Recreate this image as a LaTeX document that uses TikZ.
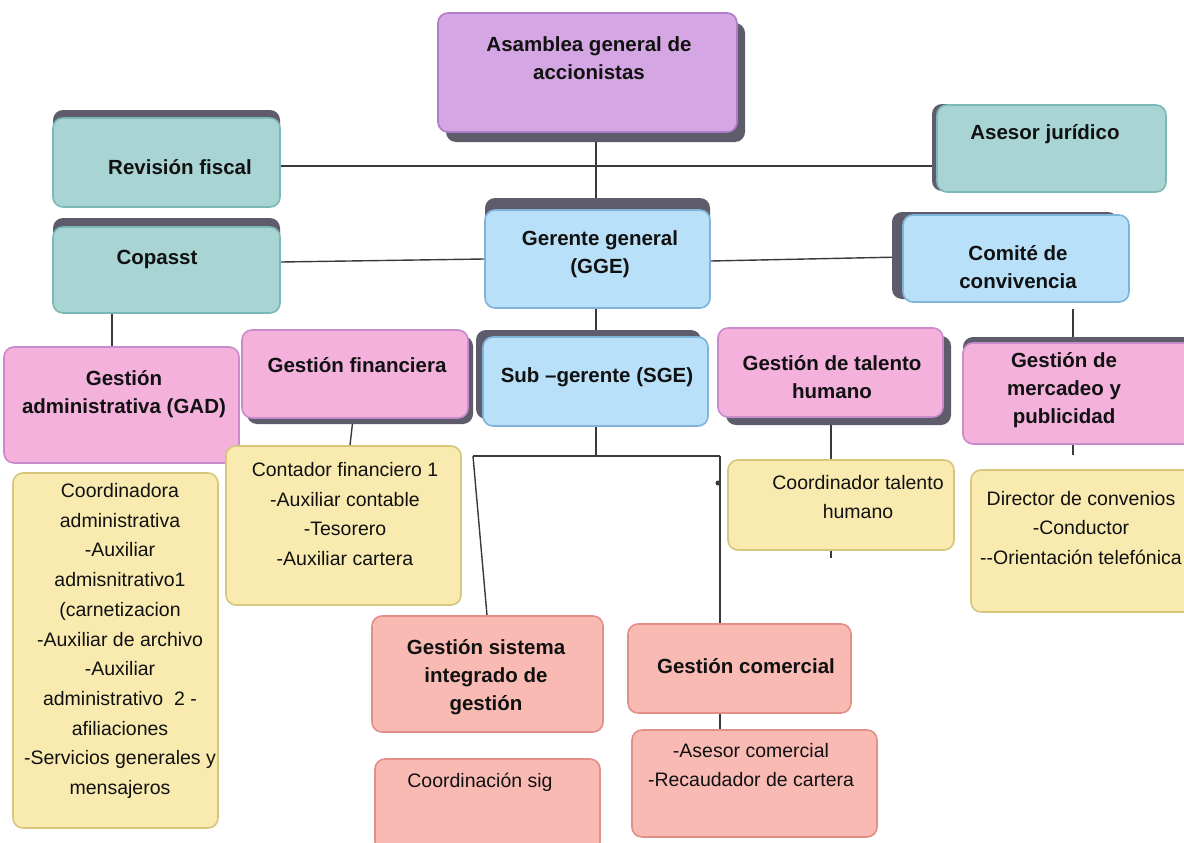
\documentclass[tikz,border=0pt]{standalone}
\usepackage{fontspec}
\setmainfont{Liberation Sans}
\usetikzlibrary{calc}
\pgfdeclarelayer{background}
\pgfsetlayers{background,main}
\definecolor{shd}{HTML}{5E5C6A}
\definecolor{purF}{HTML}{D5A6E4}\definecolor{purD}{HTML}{B07CC6}
\definecolor{teaF}{HTML}{A9D4D4}\definecolor{teaD}{HTML}{7DB8B8}
\definecolor{bluF}{HTML}{B8E0F8}\definecolor{bluD}{HTML}{7FB3DA}
\definecolor{pnkF}{HTML}{F3B1DB}\definecolor{pnkD}{HTML}{C98BCB}
\definecolor{yelF}{HTML}{F9EBB0}\definecolor{yelD}{HTML}{D6C67E}
\definecolor{salF}{HTML}{F9BAB4}\definecolor{salD}{HTML}{E18F87}
\definecolor{lnc}{HTML}{3A3A3A}
\definecolor{txc}{HTML}{111111}
\newcommand\orgbxs[8]{% name x1 y1 x2 y2 style dx dy (with shadow)
  \fill[shd, rounded corners=10] ({#2+#7},{#3+#8}) rectangle ({#4+#7},{#5+#8});
  \node[bx, #6, minimum width={#4-#2}, minimum height={#5-#3}] (#1) at ({(#2+#4)/2},{(#3+#5)/2}) {};
}
\newcommand\orgbxn[6]{% name x1 y1 x2 y2 style (no shadow)
  \node[bx, #6, minimum width={#4-#2}, minimum height={#5-#3}] (#1) at ({(#2+#4)/2},{(#3+#5)/2}) {};
}
\tikzset{
  bx/.style={rectangle, rounded corners=10, line width=1.6pt, inner sep=0pt},
  purple box/.style={fill=purF, draw=purD},
  teal box/.style={fill=teaF, draw=teaD},
  blue box/.style={fill=bluF, draw=bluD},
  pink box/.style={fill=pnkF, draw=pnkD},
  yellow box/.style={fill=yelF, draw=yelD},
  salmon box/.style={fill=salF, draw=salD},
  tb/.style={align=center, inner sep=0pt, text=txc, font=\fontsize{20.5}{28.3}\selectfont\bfseries},
  tr/.style={align=center, inner sep=0pt, text=txc, font=\fontsize{19.5}{29.7}\selectfont},
  ln/.style={draw=lnc, line width=1.4pt},
}
\begin{document}
\begin{tikzpicture}[x=1pt,y=-1pt]
\useasboundingbox (0,0) rectangle (1184,843);
\begin{pgfonlayer}{background}
\fill[white] (0,0) rectangle (1184,843);
\end{pgfonlayer}
% boxes
\orgbxs{asam}{438}{13}{737}{132}{purple box}{8}{10}
\orgbxs{rev}{53}{118}{280}{207}{teal box}{0}{-8}
\orgbxs{ases}{937}{105}{1166}{192}{teal box}{-5}{-1}
\orgbxs{cop}{53}{227}{280}{313}{teal box}{0}{-9}
\orgbxs{ger}{485}{210}{710}{308}{blue box}{0}{-12}
\orgbxs{com}{903}{215}{1129}{302}{blue box}{-11}{-3}
\orgbxn{gad}{4}{347}{239}{463}{pink box}
\orgbxs{fin}{242}{330}{468}{418}{pink box}{5}{6}
\orgbxs{sge}{483}{337}{708}{426}{blue box}{-7}{-7}
\orgbxs{tal}{718}{328}{943}{417}{pink box}{8}{8}
\orgbxs{mer}{963}{343}{1196}{444}{pink box}{0}{-6}
\orgbxn{ygad}{13}{473}{218}{828}{yellow box}
\orgbxn{cont}{226}{446}{461}{605}{yellow box}
\orgbxn{ctal}{728}{460}{954}{550}{yellow box}
\orgbxn{dir}{971}{470}{1196}{612}{yellow box}
\orgbxn{sig}{372}{616}{603}{732}{salmon box}
\orgbxn{gcom}{628}{624}{851}{713}{salmon box}
\orgbxn{csig}{375}{759}{600}{852}{salmon box}
\orgbxn{acom}{632}{730}{877}{837}{salmon box}
% texts
\node[tb] (tA) at (589,58) {Asamblea general de\\accionistas};
\node[tb] (tR) at (180,167) {Revisión fiscal};
\node[tb] (tJ) at (1045,134) {Asesor jurídico};
\node[tb] (tC) at (157,259) {Copasst};
\node[tb] (tG) at (600,254) {Gerente general\\(GGE)};
\node[tb] (tV) at (1018,267) {Comité de\\convivencia};
\node[tb] (tGAD) at (124,394) {Gestión\\administrativa (GAD)};
\node[tb] (tF) at (357,365) {Gestión financiera};
\node[tb] (tS) at (597,377) {Sub –gerente (SGE)};
\node[tb] (tT) at (832,377) {Gestión de talento\\humano};
\node[tb] (tM) at (1064,390) {Gestión de\\mercadeo y\\publicidad};
\node[tr] (tY) at (120,641) {Coordinadora\\administrativa\\-Auxiliar\\admisnitrativo1\\(carnetizacion\\-Auxiliar de archivo\\-Auxiliar\\administrativo\ \ 2 -\\afiliaciones\\-Servicios generales y\\mensajeros};
\node[tr] (tCo) at (345,514) {Contador financiero 1\\-Auxiliar contable\\-Tesorero\\-Auxiliar cartera};
\node[tr] (tCT) at (858,497) {Coordinador talento\\humano};
\node[tr] (tD) at (1081,528) {Director de convenios\\-Conductor\\-{}-Orientación telefónica};
\node[tb] (tSig) at (486,677) {Gestión sistema\\integrado de\\gestión};
\node[tb] (tCom) at (746,666) {Gestión comercial};
\node[tr] (tCs) at (480,782) {Coordinación sig};
\node[tr] (tAC) at (751,765) {-Asesor comercial\\-Recaudador de cartera};
% helper coordinates
\coordinate (vx) at (596,0);
\coordinate (hy) at (0,166);
\coordinate (gx) at (112,0);
\coordinate (bj) at (596,456);
\coordinate (bl) at (473,456);
\coordinate (br) at (720,456);
\coordinate (sx) at (487,0);
\coordinate (tx) at (831,0);
\coordinate (ttick) at (831,558);
\coordinate (mtop) at (1073,309);
\coordinate (mbot) at (1073,455);
\coordinate (dotc) at (718,483);
% connectors
\begin{pgfonlayer}{background}
\draw[ln] (asam.south -| vx) -- (ger.north -| vx);
\draw[ln] (rev.east |- hy) -- (ases.west |- hy);
\draw[ln] ([yshift=8pt]cop.east) -- (ger.west);
\draw[ln] ([yshift=-2pt]ger.east) -- ([yshift=1.5pt]com.west);
\draw[ln] (cop.south -| gx) -- (gad.north -| gx);
\draw[ln] (ger.south -| vx) -- (sge.north -| vx);
\draw[ln] (sge.south -| vx) -- (bj);
\draw[ln] (bl) -- (br);
\draw[ln] (bl) -- (sig.north -| sx);
\draw[ln] (br) -- (gcom.north -| br);
\draw[ln] ([xshift=-2pt]fin.south) -- ([xshift=6.5pt]cont.north);
\draw[ln] (tal.south -| tx) -- (ctal.north -| tx);
\draw[ln] (ctal.south -| tx) -- (ttick);
\draw[ln] (mtop) -- (mer.north -| mtop);
\draw[ln] (mer.south -| mtop) -- (mbot);
\draw[ln] (gcom.south -| br) -- (acom.north -| br);
\end{pgfonlayer}
\fill[lnc] (dotc) circle (2.5);
\end{tikzpicture}
\end{document}
